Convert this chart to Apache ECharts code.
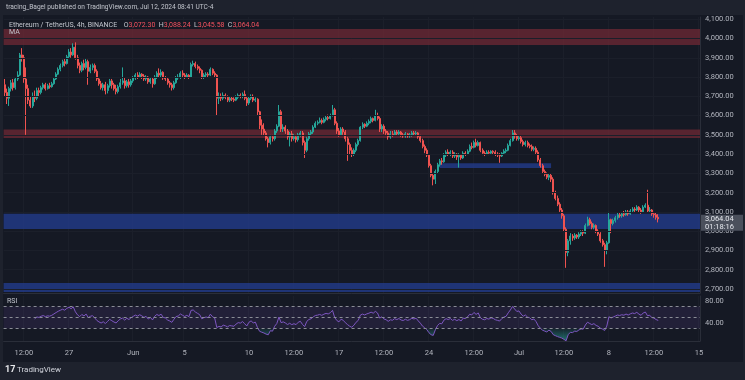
<!DOCTYPE html>
<html><head><meta charset="utf-8">
<script src="https://cdn.jsdelivr.net/npm/echarts@6/dist/echarts.min.js"></script>
<style>html,body{margin:0;padding:0;background:#1e222d;}#c{width:745px;height:380px;}</style>
</head><body><div id="c"></div>
<script>
// ---------- data ----------
const startUTC = Date.UTC(2024, 4, 22, 0, 0);   // first 4h candle
const slotCount = 325;                          // visible 4h slots incl. empty right margin
const titleText = 'tracing_Bagel published on TradingView.com, Jul 12, 2024 08:41 UTC-4';
const symbolText = 'Ethereum / TetherUS, 4h, BINANCE';
const countdownText = '01:18:16';

// [open, close, low, high]
const ohlc = [
[3760,3720,3700,3790],[3720,3690,3660,3740],[3690,3740,3650,3750],[3740,3770,3725,3785],[3770,3745,3730,3790],
[3745,3790,3735,3800],[3790,3810,3780,3830],[3810,3915,3805,3925],[3915,3900,3880,3950],[3900,3790,3770,3915],
[3790,3740,3500,3850],[3740,3680,3660,3760],[3680,3650,3640,3700],[3650,3700,3640,3720],[3700,3690,3670,3730],
[3690,3730,3680,3745],[3730,3720,3700,3745],[3720,3745,3710,3755],[3745,3760,3735,3770],[3760,3740,3730,3770],
[3740,3755,3735,3765],[3755,3750,3740,3770],[3750,3765,3745,3775],[3765,3790,3760,3800],[3790,3815,3785,3825],
[3815,3840,3810,3850],[3840,3860,3830,3870],[3860,3880,3850,3890],[3880,3870,3855,3895],[3870,3905,3865,3915],
[3905,3930,3895,3945],[3930,3915,3900,3950],[3915,3955,3910,3975],[3955,3900,3890,3980],[3900,3860,3845,3915],
[3860,3835,3820,3875],[3835,3870,3825,3880],[3870,3850,3835,3890],[3850,3880,3840,3895],[3880,3830,3760,3890],
[3830,3850,3820,3865],[3850,3860,3835,3870],[3860,3830,3820,3870],[3830,3790,3780,3840],[3790,3765,3755,3800],
[3765,3745,3735,3780],[3745,3760,3730,3770],[3760,3730,3710,3775],[3730,3755,3715,3765],[3755,3780,3745,3790],
[3780,3760,3740,3790],[3760,3740,3730,3770],[3740,3725,3710,3760],[3725,3750,3715,3760],[3750,3770,3740,3790],
[3770,3780,3760,3850],[3780,3755,3740,3795],[3755,3775,3745,3785],[3775,3760,3745,3790],[3760,3780,3750,3790],
[3780,3795,3770,3805],[3795,3810,3785,3820],[3810,3800,3790,3825],[3800,3815,3795,3825],[3815,3805,3790,3820],
[3805,3790,3780,3815],[3790,3800,3780,3810],[3800,3775,3765,3805],[3775,3790,3765,3800],[3790,3765,3745,3795],
[3765,3800,3760,3810],[3800,3820,3790,3830],[3820,3810,3800,3845],[3810,3825,3800,3840],[3825,3795,3785,3830],
[3795,3790,3780,3805],[3790,3770,3760,3800],[3770,3760,3745,3780],[3760,3745,3730,3770],[3745,3770,3735,3780],
[3770,3795,3765,3805],[3795,3800,3785,3815],[3800,3820,3790,3830],[3820,3810,3800,3835],[3810,3800,3790,3820],
[3800,3810,3795,3820],[3810,3800,3790,3815],[3800,3865,3795,3875],[3865,3870,3855,3885],[3870,3855,3845,3880],
[3855,3845,3835,3865],[3845,3835,3820,3855],[3835,3800,3790,3840],[3800,3810,3790,3820],[3810,3815,3800,3825],
[3815,3810,3800,3825],[3810,3840,3805,3850],[3840,3820,3810,3845],[3820,3810,3800,3830],[3810,3690,3600,3815],
[3690,3700,3660,3720],[3700,3690,3675,3715],[3690,3705,3680,3720],[3705,3695,3685,3715],[3695,3680,3670,3705],
[3680,3690,3670,3700],[3690,3685,3675,3700],[3685,3680,3670,3695],[3680,3695,3675,3705],[3695,3705,3685,3715],
[3705,3700,3690,3715],[3700,3710,3690,3720],[3710,3690,3680,3730],[3690,3665,3650,3700],[3665,3690,3655,3700],
[3690,3700,3680,3710],[3700,3680,3670,3710],[3680,3685,3670,3695],[3685,3620,3600,3690],[3620,3550,3530,3625],
[3550,3530,3500,3580],[3530,3510,3495,3560],[3510,3480,3470,3520],[3480,3460,3435,3490],[3460,3490,3450,3500],
[3490,3480,3465,3500],[3480,3520,3470,3530],[3520,3545,3510,3555],[3545,3620,3540,3655],[3620,3530,3515,3630],
[3530,3540,3515,3555],[3540,3520,3505,3550],[3520,3490,3475,3530],[3490,3505,3440,3515],[3505,3480,3465,3520],
[3480,3490,3470,3505],[3490,3475,3460,3500],[3475,3500,3465,3510],[3500,3510,3490,3520],[3510,3460,3445,3520],
[3460,3420,3380,3470],[3420,3480,3410,3490],[3480,3505,3470,3515],[3505,3515,3495,3525],[3515,3540,3505,3550],
[3540,3560,3535,3570],[3560,3565,3550,3575],[3565,3575,3560,3590],[3575,3565,3555,3585],[3565,3580,3560,3590],
[3580,3590,3570,3600],[3590,3585,3575,3605],[3585,3600,3580,3610],[3600,3630,3595,3655],[3630,3560,3550,3640],
[3560,3520,3505,3570],[3520,3500,3490,3535],[3500,3530,3495,3540],[3530,3515,3500,3540],[3515,3480,3465,3525],
[3480,3450,3365,3490],[3450,3420,3400,3460],[3420,3400,3385,3435],[3400,3420,3390,3430],[3420,3450,3410,3460],
[3450,3470,3440,3480],[3470,3540,3465,3545],[3540,3555,3530,3565],[3555,3545,3535,3560],[3545,3560,3540,3570],
[3560,3570,3550,3580],[3570,3585,3560,3595],[3585,3575,3565,3590],[3575,3600,3570,3630],[3600,3585,3575,3615],
[3585,3530,3515,3595],[3530,3545,3515,3555],[3545,3520,3505,3555],[3520,3510,3500,3530],[3510,3490,3475,3520],
[3490,3505,3480,3520],[3505,3500,3490,3520],[3500,3515,3495,3525],[3515,3505,3495,3525],[3505,3515,3495,3525],
[3515,3500,3490,3520],[3500,3495,3485,3510],[3495,3505,3485,3515],[3505,3495,3485,3510],[3495,3500,3485,3510],
[3500,3510,3490,3520],[3510,3505,3495,3520],[3505,3510,3495,3520],[3510,3490,3480,3515],[3490,3470,3460,3500],
[3470,3440,3430,3480],[3440,3420,3405,3450],[3420,3395,3385,3430],[3395,3340,3330,3400],[3340,3290,3280,3350],
[3290,3270,3238,3300],[3270,3310,3245,3320],[3310,3345,3300,3355],[3345,3365,3335,3375],[3365,3360,3345,3380],
[3360,3395,3355,3405],[3395,3410,3385,3420],[3410,3400,3390,3425],[3400,3410,3390,3420],[3410,3390,3380,3420],
[3390,3400,3380,3410],[3400,3385,3370,3405],[3385,3395,3330,3405],[3395,3380,3370,3400],[3380,3405,3375,3415],
[3405,3400,3390,3415],[3400,3415,3395,3425],[3415,3440,3410,3450],[3440,3435,3425,3460],[3435,3460,3430,3470],
[3460,3445,3435,3480],[3445,3460,3440,3470],[3460,3420,3410,3465],[3420,3405,3395,3430],[3405,3400,3390,3415],
[3400,3410,3395,3420],[3410,3405,3395,3420],[3405,3415,3400,3420],[3415,3410,3400,3420],[3410,3400,3390,3420],
[3400,3395,3385,3410],[3395,3390,3355,3405],[3390,3405,3385,3410],[3405,3415,3400,3425],[3415,3420,3405,3430],
[3420,3445,3415,3455],[3445,3470,3440,3480],[3470,3510,3465,3525],[3510,3495,3480,3525],[3495,3480,3470,3505],
[3480,3485,3470,3495],[3485,3465,3455,3495],[3465,3450,3440,3475],[3450,3460,3440,3470],[3460,3445,3435,3470],
[3445,3440,3430,3455],[3440,3425,3415,3450],[3425,3430,3415,3440],[3430,3410,3400,3440],[3410,3370,3360,3420],
[3370,3340,3330,3380],[3340,3310,3300,3350],[3310,3295,3285,3320],[3295,3280,3270,3305],[3280,3290,3265,3300],
[3290,3270,3255,3300],[3270,3200,3190,3280],[3200,3170,3160,3210],[3170,3140,3130,3185],[3140,3110,3100,3150],
[3110,3080,3065,3120],[3080,3010,3000,3090],[3010,2890,2810,3020],[2890,2950,2870,2960],[2950,2975,2930,2990],
[2975,2965,2950,2985],[2965,2980,2955,2990],[2980,2970,2960,2985],[2970,2985,2960,2995],[2985,2995,2975,3005],
[2995,2990,2975,3005],[2990,3030,2985,3040],[3030,3060,3025,3075],[3060,3040,3030,3070],[3040,3020,3010,3050],
[3020,3030,3010,3040],[3030,3000,2990,3035],[3000,2985,2975,3010],[2985,2950,2940,2995],[2950,2930,2920,2960],
[2930,2900,2815,2940],[2900,2940,2880,2950],[2940,3060,2935,3100],[3060,3040,2990,3065],[3040,3055,3030,3065],
[3055,3070,3045,3080],[3070,3085,3060,3095],[3085,3080,3070,3095],[3080,3090,3070,3100],[3090,3085,3075,3105],
[3085,3100,3080,3110],[3100,3090,3080,3110],[3090,3105,3085,3115],[3105,3115,3100,3125],[3115,3110,3100,3125],
[3110,3125,3105,3135],[3125,3110,3095,3130],[3110,3100,3090,3120],[3100,3125,3095,3135],[3125,3135,3120,3145],
[3135,3105,3095,3215],[3105,3110,3095,3125],[3110,3090,3080,3115],[3090,3085,3070,3100],[3085,3072,3060,3095],
[3072.30,3064.04,3045.58,3088.24]
];

// support / resistance zones: [low, high] in price
const redZones = [[3966, 4049], [3484, 3528]];
const blueZones = [[3012, 3090], [2684, 2731]];
const blueShortZone = { low: 3328, high: 3353, from: '2024-06-24 20:00', to: '2024-07-03 12:00' };

const priceTicks = [2700,2800,2900,3000,3100,3200,3300,3400,3500,3600,3700,3800,3900,4000,4100];
const priceMin = 2679.3, priceMax = 4111.6;
const rsiTicks = [80, 40];
const rsiLevels = [70, 50, 30];
const rsiMin = 7.3, rsiMax = 89.1;
const rsiPeriod = 14;

const xTickDates = ['2024-05-23 12:00','2024-05-27 00:00','2024-06-01 00:00','2024-06-05 00:00','2024-06-10 00:00',
  '2024-06-13 12:00','2024-06-17 00:00','2024-06-20 12:00','2024-06-24 00:00','2024-06-27 12:00','2024-07-01 00:00',
  '2024-07-04 12:00','2024-07-08 00:00','2024-07-11 12:00','2024-07-15 00:00'];
const xTickTexts = ['12:00','27','Jun','5','10','12:00','17','12:00','24','12:00','Jul','12:00','8','12:00','15'];

// ---------- build ----------
const H4 = 4 * 3600 * 1000;
const pad = n => String(n).padStart(2, '0');
const fmtDate = t => { const d = new Date(t); return d.getUTCFullYear() + '-' + pad(d.getUTCMonth() + 1) + '-' + pad(d.getUTCDate()) + ' ' + pad(d.getUTCHours()) + ':' + pad(d.getUTCMinutes()); };
const categories = [];
for (let i = 0; i < slotCount; i++) categories.push(fmtDate(startUTC + i * H4));
const tickMap = {};
xTickDates.forEach((d, k) => { tickMap[d] = xTickTexts[k]; });
const tickInterval = (idx) => tickMap.hasOwnProperty(categories[idx]);

// RSI (Wilder) derived from the candle closes
const closes = ohlc.map(c => c[1]);
const rsi = new Array(closes.length).fill(null);
let ag = 0, al = 0;
for (let i = 1; i < closes.length; i++) {
  const ch = closes[i] - closes[i - 1];
  const g = Math.max(ch, 0), l = Math.max(-ch, 0);
  if (i <= rsiPeriod) { ag += g / rsiPeriod; al += l / rsiPeriod; }
  else { ag = (ag * (rsiPeriod - 1) + g) / rsiPeriod; al = (al * (rsiPeriod - 1) + l) / rsiPeriod; }
  if (i >= rsiPeriod) rsi[i] = al === 0 ? 100 : 100 - 100 / (1 + ag / al);
}
const rsiLow = rsi.map(v => v === null ? null : Math.min(v, 30));

const fmt2 = v => Number(v).toLocaleString('en-US', { minimumFractionDigits: 2, maximumFractionDigits: 2 });
const last = ohlc[ohlc.length - 1];

const UP = '#26a69a', DOWN = '#ef5350';
const FONT = 'Roboto, "Liberation Sans", sans-serif';
const AXC = '#b2b5be';
const GRIDC = '#1b1f2a';
const RED_ZONE = 'rgba(112,40,52,0.74)';
const BLUE_ZONE = 'rgba(36,62,150,0.72)';

const zoneAreas = [];
redZones.forEach(z => zoneAreas.push([{ yAxis: z[0], itemStyle: { color: RED_ZONE } }, { yAxis: z[1] }]));
blueZones.forEach(z => zoneAreas.push([{ yAxis: z[0], itemStyle: { color: BLUE_ZONE } }, { yAxis: z[1] }]));
zoneAreas.push([{ xAxis: blueShortZone.from, yAxis: blueShortZone.low, itemStyle: { color: BLUE_ZONE } }, { xAxis: blueShortZone.to, yAxis: blueShortZone.high }]);

const baseGraphic = [
  { type: 'rect', z: -10, silent: true, shape: { x: 3, y: 15, width: 740, height: 347 }, style: { fill: '#151924' } },
  { type: 'text', z: 100, left: 6, top: 4, style: { text: titleText, fill: '#c3c6ce', font: '6.6px ' + FONT } },
  { type: 'text', z: 100, left: 9, top: 19, style: {
      text: '{s|' + symbolText + '}  {k|O}{v|' + fmt2(last[0]) + '} {k|H}{v|' + fmt2(last[3]) + '} {k|L}{v|' + fmt2(last[2]) + '} {k|C}{v|' + fmt2(last[1]) + '}',
      rich: { s: { fill: '#c3c6ce', fontSize: 7, fontFamily: FONT }, k: { fill: '#c3c6ce', fontSize: 7, fontFamily: FONT }, v: { fill: '#f7525f', fontSize: 7, fontFamily: FONT } } } },
  { type: 'text', z: 100, left: 9, top: 29, style: { text: 'MA', fill: '#c3c6ce', font: '7px ' + FONT } },
  { type: 'text', z: 100, left: 7, top: 298, style: { text: 'RSI', fill: '#c3c6ce', font: '7px ' + FONT } },
  { type: 'text', z: 100, left: 5, top: 365, style: { text: '17', fill: '#e8e9ec', font: 'bold 9px ' + FONT } },
  { type: 'text', z: 100, left: 17, top: 366, style: { text: 'TradingView', fill: '#d1d4dc', font: '8px ' + FONT } }
];

const chart = echarts.init(document.getElementById('c'), null, { renderer: 'canvas' });
const option = {
  backgroundColor: '#1e222d',
  animation: false,
  textStyle: { fontFamily: FONT },
  graphic: baseGraphic,
  grid: [
    { left: 3.6, right: 45, top: 17, height: 276 },
    { left: 3.6, right: 45, top: 296, height: 45 }
  ],
  xAxis: [
    { type: 'category', gridIndex: 0, data: categories, boundaryGap: true,
      axisLine: { show: true, lineStyle: { color: '#2a2e39' } }, axisTick: { show: false }, axisLabel: { show: false },
      splitLine: { show: true, interval: tickInterval, lineStyle: { color: GRIDC } } },
    { type: 'category', gridIndex: 1, data: categories, boundaryGap: true,
      axisLine: { show: true, lineStyle: { color: '#2a2e39' } }, axisTick: { show: false },
      axisLabel: { show: true, interval: tickInterval, formatter: v => tickMap[v] || '', color: AXC, fontSize: 7.5, fontFamily: FONT, margin: 8, hideOverlap: false },
      splitLine: { show: true, interval: tickInterval, lineStyle: { color: GRIDC } } }
  ],
  yAxis: [
    { type: 'value', gridIndex: 0, position: 'right', min: priceMin, max: priceMax,
      axisLine: { show: true, lineStyle: { color: '#2a2e39' } }, axisTick: { show: false },
      axisLabel: { customValues: priceTicks, formatter: v => fmt2(v), color: AXC, fontSize: 7.5, fontFamily: FONT, margin: 5 },
      splitLine: { show: false } },
    { type: 'value', gridIndex: 1, position: 'right', min: rsiMin, max: rsiMax,
      axisLine: { show: true, lineStyle: { color: '#2a2e39' } }, axisTick: { show: false },
      axisLabel: { customValues: rsiTicks, formatter: v => fmt2(v), color: AXC, fontSize: 7.5, fontFamily: FONT, margin: 5 },
      splitLine: { show: false } }
  ],
  series: [
    { type: 'line', name: 'grid', xAxisIndex: 0, yAxisIndex: 0, data: [], z: 1, silent: true,
      markLine: { silent: true, symbol: 'none', label: { show: false }, lineStyle: { color: GRIDC, width: 1, type: 'solid' },
        data: priceTicks.map(p => ({ yAxis: p })) } },
    { type: 'candlestick', name: 'ETHUSDT', xAxisIndex: 0, yAxisIndex: 0, data: ohlc, barWidth: '70%', z: 2,
      itemStyle: { color: UP, color0: DOWN, borderColor: UP, borderColor0: DOWN, borderWidth: 1 },
      markArea: { silent: true, data: zoneAreas } },
    { type: 'line', name: 'RSI', xAxisIndex: 1, yAxisIndex: 1, data: rsi, showSymbol: false, connectNulls: false,
      lineStyle: { color: '#7e57c2', width: 1 }, z: 3,
      markArea: { silent: true, data: [[{ yAxis: 30, itemStyle: { color: 'rgba(126,87,194,0.13)' } }, { yAxis: 70 }]] },
      markLine: { silent: true, symbol: 'none', label: { show: false },
        lineStyle: { color: '#8a8d96', type: [3, 3], width: 1 }, data: rsiLevels.map(v => ({ yAxis: v })) } },
    { type: 'line', name: 'RSI oversold', xAxisIndex: 1, yAxisIndex: 1, data: rsiLow, showSymbol: false,
      lineStyle: { width: 0, opacity: 0 }, z: 2,
      areaStyle: { origin: 30, color: new echarts.graphic.LinearGradient(0, 1, 0, 0, [{ offset: 0, color: 'rgba(38,166,154,0.9)' }, { offset: 1, color: 'rgba(38,166,154,0.1)' }]) } }
  ]
};
chart.setOption(option);

// last-price label on the price scale, positioned through the axis
const lastY = chart.convertToPixel({ yAxisIndex: 0 }, last[1]);
chart.setOption({ graphic: baseGraphic.concat([
  { type: 'rect', z: 110, silent: true, shape: { x: 701, y: lastY - 4, width: 42, height: 16 }, style: { fill: '#4b505c' } },
  { type: 'text', z: 111, silent: true, x: 705, y: lastY - 3.5, style: { text: fmt2(last[1]) + '\n' + countdownText, fill: '#e6e8ee', font: '7.5px ' + FONT, lineHeight: 8 } }
]) });
</script>
</body></html>
